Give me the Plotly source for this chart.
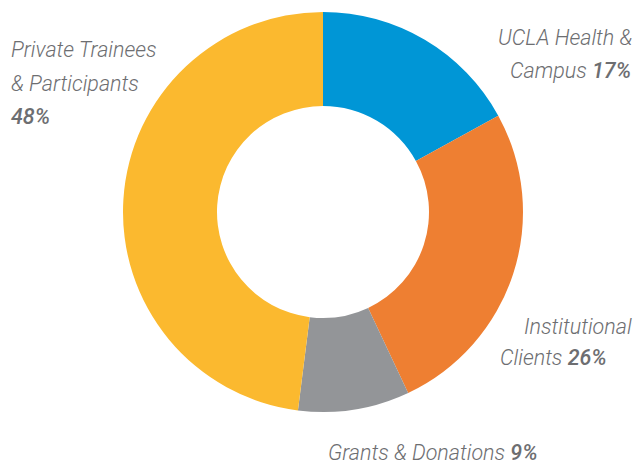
import plotly.graph_objects as go

categories = ["UCLA Health & Campus", "Institutional Clients", "Grants & Donations", "Private Trainees & Participants"]
values = [17, 26, 9, 48]
colors = ["#0096D6", "#EE7F32", "#939598", "#FBB92F"]

W, H = 637, 464
cx, cy, R = 323, 212, 200

fig = go.Figure(go.Pie(
    labels=categories, values=values, sort=False, direction="clockwise", rotation=0,
    hole=0.53, marker=dict(colors=colors, line=dict(width=0)),
    textinfo="none", hoverinfo="label+percent", showlegend=False,
    domain=dict(x=[(cx - R) / W, (cx + R) / W], y=[(H - cy - R) / H, (H - cy + R) / H]),
))

def pct(v):
    return f'<span style="font-weight:500">{v}%</span>'

# (text, x px, y px center, anchor)
labels = [
    ("Private Trainees", 9, 50, "left"),
    ("& Participants", 9, 84, "left"),
    (pct(values[3]), 9, 116, "left"),
    ("UCLA Health &", 634, 38, "right"),
    ("Campus " + pct(values[0]), 633, 70, "right"),
    ("Institutional", 634, 326, "right"),
    ("Clients " + pct(values[1]), 609, 357, "right"),
    ("Grants & Donations " + pct(values[2]), 326, 452, "left"),
]
ann = []
for t, x, y, a in labels:
    ann.append(dict(text=t, x=x / W, y=1 - y / H, xref="paper", yref="paper",
                    xanchor=a, yanchor="middle", showarrow=False,
                    font=dict(family="Roboto", size=21.5, color="#6D6E71", style="italic", weight=300)))

fig.update_layout(width=W, height=H, margin=dict(l=0, r=0, t=0, b=0),
                  paper_bgcolor="white", plot_bgcolor="white", annotations=ann)
fig.write_html("out.html", config={"displayModeBar": False},
               post_script="document.body.style.margin='0';")
